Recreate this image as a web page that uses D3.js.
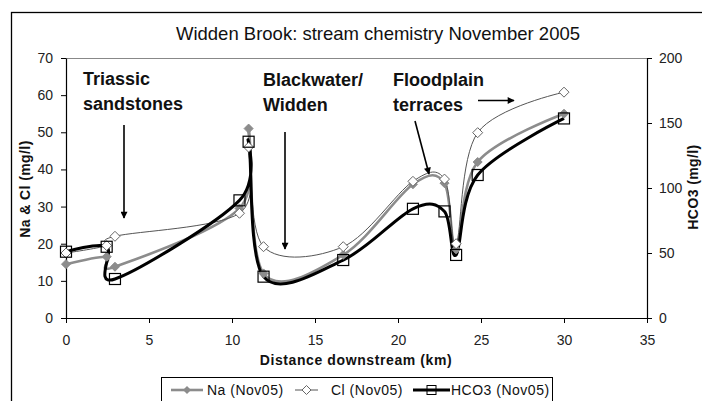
<!DOCTYPE html>
<html><head><meta charset="utf-8">
<script src="https://cdn.jsdelivr.net/npm/d3@7"></script>
<style>
body{margin:0;background:#fff;}
svg text{font-family:"Liberation Sans",Arial,sans-serif;}
</style></head>
<body><svg id="c" width="702" height="401"></svg>
<script>
// Data
const distance = [0, 2.45, 2.95, 10.45, 11, 11.9, 16.7, 20.9, 22.8, 23.5, 24.8, 30];
const naValues = [14.5, 16.5, 13.8, 29.5, 51, 12, 17, 36, 36.3, 18.5, 42, 55];
const clValues = [17.5, 19.5, 22, 28.2, 46, 19.2, 19.2, 36.8, 37.4, 20, 49.9, 60.8];
const hco3Values = [51, 54.8, 30, 90.5, 135.6, 31.8, 44.6, 84, 82, 48.5, 110, 153.5];
const xTicks = [0, 5, 10, 15, 20, 25, 30, 35];
const yLeftTicks = [0, 10, 20, 30, 40, 50, 60, 70];
const yRightTicks = [0, 50, 100, 150, 200];
const seriesNames = ["Na (Nov05)", "Cl (Nov05)", "HCO3 (Nov05)"];
const annotations = [
  {lines: ["Triassic", "sandstones"], x: 83, y: 85},
  {lines: ["Blackwater/", "Widden"], x: 263, y: 86},
  {lines: ["Floodplain", "terraces"], x: 393, y: 86}
];

const svg = d3.select("#c");
const L = 66, R = 647, T = 58, B = 318;

const x = d3.scaleLinear().domain([0, 35]).range([L, R]);
const yL = d3.scaleLinear().domain([0, 70]).range([B, T]);
const yR = d3.scaleLinear().domain([0, 200]).range([B, T]);

// outer border
svg.append("rect").attr("x", 11.5).attr("y", 12.5).attr("width", 720).attr("height", 420)
  .attr("fill", "none").attr("stroke", "#000").attr("stroke-width", 1.3);

svg.append("defs").append("marker").attr("id", "ah")
  .attr("viewBox", "0 0 10 10").attr("refX", 9).attr("refY", 5)
  .attr("markerWidth", 8).attr("markerHeight", 7).attr("markerUnits", "userSpaceOnUse")
  .attr("orient", "auto")
  .append("path").attr("d", "M0,0L10,5L0,10z").attr("fill", "#000");

// title
svg.append("text").attr("x", 378).attr("y", 40).attr("text-anchor", "middle")
  .style("font-size", "18.5px").attr("fill", "#111")
  .text("Widden Brook: stream chemistry November 2005");

// plot top border
svg.append("line").attr("x1", L).attr("x2", R).attr("y1", T + 0.5).attr("y2", T + 0.5)
  .attr("stroke", "#888").attr("stroke-width", 1);

function styleAxis(g) {
  g.selectAll("path.domain").attr("stroke", "#000").attr("stroke-width", 1.2);
  g.selectAll(".tick line").attr("stroke", "#000");
  g.selectAll("text").style("font-size", "14px").attr("fill", "#222")
    .style("font-family", "'Liberation Sans',Arial,sans-serif");
}

svg.append("g").attr("transform", `translate(${L},0)`)
  .call(d3.axisLeft(yL).tickValues(yLeftTicks).tickSize(5).tickSizeOuter(0).tickPadding(8))
  .call(styleAxis);
svg.append("g").attr("transform", `translate(${R},0)`)
  .call(d3.axisRight(yR).tickValues(yRightTicks).tickSize(5).tickSizeOuter(0).tickPadding(7))
  .call(styleAxis);
svg.append("g").attr("transform", `translate(0,${B})`)
  .call(d3.axisBottom(x).tickValues(xTicks).tickSize(5).tickSizeOuter(0).tickPadding(12))
  .call(styleAxis);

// axis titles
svg.append("text").attr("x", 356).attr("y", 365).attr("text-anchor", "middle")
  .style("font-size", "14px").style("font-weight", "bold").style("letter-spacing", "0.6px")
  .attr("fill", "#111").text("Distance downstream (km)");
svg.append("text").attr("transform", "translate(30,189) rotate(-90)").attr("text-anchor", "middle")
  .style("font-size", "14px").style("font-weight", "bold").style("letter-spacing", "0.4px")
  .attr("fill", "#111").text("Na & Cl (mg/l)");
svg.append("text").attr("transform", "translate(698,187) rotate(-90)").attr("text-anchor", "middle")
  .style("font-size", "14px").style("font-weight", "bold").style("letter-spacing", "0.4px")
  .attr("fill", "#111").text("HCO3 (mg/l)");

// series
const curve = d3.curveCardinal.tension(0);
const naPts = distance.map((d, i) => [x(d), yL(naValues[i])]);
const clPts = distance.map((d, i) => [x(d), yL(clValues[i])]);
const hcPts = distance.map((d, i) => [x(d), yR(hco3Values[i])]);
const line = d3.line().curve(curve);

svg.append("path").attr("d", line(naPts)).attr("fill", "none").attr("stroke", "#8c8c8c").attr("stroke-width", 2.6);
svg.append("path").attr("d", line(clPts)).attr("fill", "none").attr("stroke", "#555").attr("stroke-width", 1);
svg.append("path").attr("d", line(hcPts)).attr("fill", "none").attr("stroke", "#000").attr("stroke-width", 3);

const diamond = s => `M0,${-s}L${s},0L0,${s}L${-s},0Z`;
svg.append("g").selectAll("path").data(naPts).join("path")
  .attr("transform", d => `translate(${d[0]},${d[1]})`).attr("d", diamond(4.5))
  .attr("fill", "#8c8c8c").attr("stroke", "#8c8c8c");
svg.append("g").selectAll("path").data(clPts).join("path")
  .attr("transform", d => `translate(${d[0]},${d[1]})`).attr("d", diamond(5))
  .attr("fill", "#fff").attr("stroke", "#666").attr("stroke-width", 1);
svg.append("g").selectAll("rect").data(hcPts).join("rect")
  .attr("x", d => d[0] - 5.5).attr("y", d => d[1] - 5.5).attr("width", 11).attr("height", 11)
  .attr("fill", "none").attr("stroke", "#000").attr("stroke-width", 1.2);

// annotations
annotations.forEach(a => {
  const t = svg.append("text").attr("x", a.x).attr("y", a.y)
    .style("font-size", "18px").style("font-weight", "bold").attr("fill", "#111");
  a.lines.forEach((ln, i) => t.append("tspan").attr("x", a.x).attr("dy", i ? 24.5 : 0).text(ln));
});
const arrows = [[124, 125, 124, 218], [285, 132, 285, 249], [415, 121, 429, 174], [478, 100.5, 514, 100.5]];
arrows.forEach(a => svg.append("line").attr("x1", a[0]).attr("y1", a[1]).attr("x2", a[2]).attr("y2", a[3])
  .attr("stroke", "#000").attr("stroke-width", 1.6).attr("marker-end", "url(#ah)"));

// legend
const lg = svg.append("g");
lg.append("rect").attr("x", 161.5).attr("y", 377.5).attr("width", 391).attr("height", 40)
  .attr("fill", "#fff").attr("stroke", "#000").attr("stroke-width", 1);
const legendItems = [
  {name: seriesNames[0], x1: 171, x2: 203, tx: 207, type: "na"},
  {name: seriesNames[1], x1: 295, x2: 318, tx: 331, type: "cl"},
  {name: seriesNames[2], x1: 413, x2: 450, tx: 451, type: "hc"}
];
const ly = 390;
legendItems.forEach(it => {
  const cx = (it.x1 + it.x2) / 2;
  if (it.type === "na") {
    lg.append("line").attr("x1", it.x1).attr("x2", it.x2).attr("y1", ly).attr("y2", ly).attr("stroke", "#8c8c8c").attr("stroke-width", 2.6);
    lg.append("path").attr("transform", `translate(${cx},${ly})`).attr("d", diamond(4)).attr("fill", "#8c8c8c");
  } else if (it.type === "cl") {
    lg.append("line").attr("x1", it.x1).attr("x2", it.x2).attr("y1", ly).attr("y2", ly).attr("stroke", "#555").attr("stroke-width", 1);
    lg.append("path").attr("transform", `translate(${cx},${ly})`).attr("d", diamond(4.5)).attr("fill", "#fff").attr("stroke", "#666");
  } else {
    lg.append("line").attr("x1", it.x1).attr("x2", it.x2).attr("y1", ly).attr("y2", ly).attr("stroke", "#000").attr("stroke-width", 3);
    lg.append("rect").attr("x", cx - 4.5).attr("y", ly - 4.5).attr("width", 9).attr("height", 9).attr("fill", "none").attr("stroke", "#000");
  }
  lg.append("text").attr("x", it.tx).attr("y", ly + 5).style("font-size", "14px").style("letter-spacing", "0.5px")
    .attr("fill", "#111").text(it.name);
});
</script></body></html>
